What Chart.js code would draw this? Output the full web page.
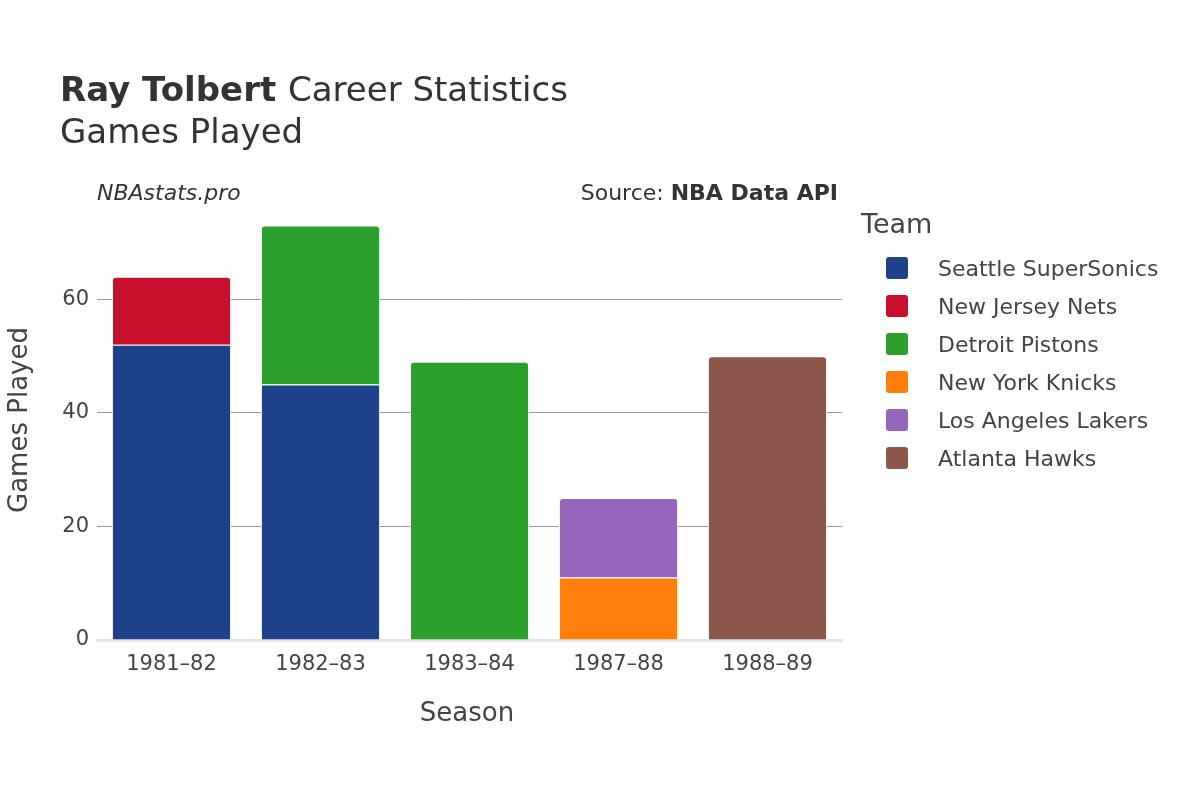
<!DOCTYPE html>
<html lang="en">
<head>
  <meta charset="UTF-8" />
  <title>Ray Tolbert - Games Played</title>
  <script src="https://cdn.jsdelivr.net/npm/chart.js"></script>
  <style>
    body { margin: 0; background: #fff; font-family: 'DejaVu Sans', sans-serif; }
    .wrap { position: relative; width: 1200px; height: 800px; }
    .legend { position: absolute; left: 861px; top: 208px; color: #444; }
    .legend h4 { margin: 0 0 10px 0; font-weight: normal; font-size: 27px; }
    .legend div { display: flex; align-items: center; height: 38px; font-size: 22px; }
    .legend span.sw { width: 22px; height: 22px; border-radius: 3px; margin: 0 30px 0 25px; }
  </style>
</head>
<body>
  <div class="wrap">
    <canvas id="chart" width="1200" height="800"></canvas>
    <div class="legend" id="legend"><h4>Team</h4></div>
  </div>

  <script>
    const seasons = ['1981–82', '1982–83', '1983–84', '1987–88', '1988–89'];
    const teams = ['Seattle SuperSonics', 'New Jersey Nets', 'Detroit Pistons', 'New York Knicks', 'Los Angeles Lakers', 'Atlanta Hawks'];
    const colors = ['#1d428a', '#c8102e', '#2ca02c', '#ff7f0e', '#9467bd', '#8c564b'];
    const seattle = [52, 45, null, null, null];
    const nets = [12, null, null, null, null];
    const pistons = [null, 28, 49, null, null];
    const knicks = [null, null, null, 11, null];
    const lakers = [null, null, null, 14, null];
    const hawks = [null, null, null, null, 50];
    const yTicks = [0, 20, 40, 60];

    const series = [seattle, nets, pistons, knicks, lakers, hawks];

    const legend = document.getElementById('legend');
    teams.forEach((t, i) => {
      const row = document.createElement('div');
      row.innerHTML = '<span class="sw" style="background:' + colors[i] + '"></span>' + t;
      legend.appendChild(row);
    });

    const textPlugin = {
      id: 'texts',
      afterDraw(chart) {
        const ctx = chart.ctx;
        ctx.save();
        ctx.fillStyle = '#333';
        ctx.textBaseline = 'alphabetic';
        ctx.textAlign = 'left';
        ctx.font = 'bold 34px "DejaVu Sans"';
        ctx.fillText('Ray Tolbert', 60, 101);
        const w = ctx.measureText('Ray Tolbert ').width;
        ctx.font = '34px "DejaVu Sans"';
        ctx.fillText('Career Statistics', 60 + w, 101);
        ctx.fillText('Games Played', 60, 143);
        ctx.font = 'italic 22px "DejaVu Sans"';
        ctx.fillText('NBAstats.pro', 97, 200);
        ctx.textAlign = 'right';
        ctx.font = 'bold 22px "DejaVu Sans"';
        ctx.fillText('NBA Data API', 838, 200);
        const bw = ctx.measureText('NBA Data API').width;
        ctx.font = '22px "DejaVu Sans"';
        ctx.fillText('Source: ', 838 - bw, 200);
        ctx.fillStyle = '#444';
        ctx.textAlign = 'center';
        ctx.font = '26px "DejaVu Sans"';
        ctx.fillText('Season', 467, 721);
        ctx.translate(27, 420);
        ctx.rotate(-Math.PI / 2);
        ctx.fillText('Games Played', 0, 0);
        ctx.restore();
      }
    };

    new Chart(document.getElementById('chart'), {
      type: 'bar',
      data: {
        labels: seasons,
        datasets: series.map((d, i) => ({
          label: teams[i],
          data: d,
          backgroundColor: colors[i],
          borderColor: '#fff',
          borderWidth: 1,
          borderRadius: 4,
          borderSkipped: 'bottom',
          barPercentage: 0.8,
          categoryPercentage: 1
        }))
      },
      options: {
        responsive: false,
        animation: false,
        layout: { padding: { top: 204, right: 358, left: 0, bottom: 0 } },
        plugins: { legend: { display: false }, tooltip: { enabled: false } },
        scales: {
          x: {
            stacked: true,
            grid: { display: false },
            border: { color: '#e5e5e5', width: 3 },
            ticks: { color: '#444', font: { size: 21, family: 'DejaVu Sans' }, padding: 4 },
            afterFit(s) { s.height = 160; }
          },
          y: {
            stacked: true,
            min: 0,
            max: 76.8,
            border: { display: false },
            grid: { color: ctx => ctx.tick.value === 0 ? 'rgba(0,0,0,0)' : '#999', lineWidth: 1, drawTicks: false },
            afterBuildTicks(s) { s.ticks = yTicks.map(v => ({ value: v })); },
            ticks: { color: '#444', font: { size: 21, family: 'DejaVu Sans' }, padding: 8 },
            afterFit(s) { s.width = 97; }
          }
        }
      },
      plugins: [textPlugin]
    });
  </script>
</body>
</html>
